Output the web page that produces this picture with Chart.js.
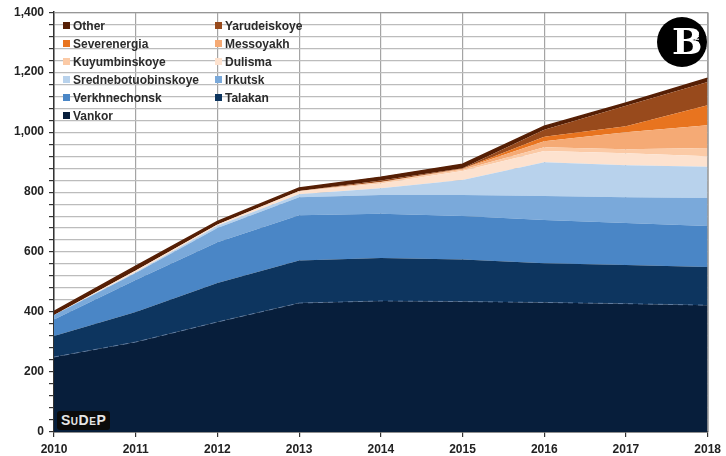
<!DOCTYPE html>
<html>
<head>
<meta charset="utf-8">
<script src="https://cdn.jsdelivr.net/npm/chart.js"></script>
<style>
  html, body { margin: 0; padding: 0; background: #fff; }
  #wrap { position: relative; width: 726px; height: 456px; }
  #legend { position: absolute; left: 63px; top: 17px; font: bold 12px "Liberation Sans", Arial, sans-serif; color: #2b2b2b; }
  .item { position: absolute; white-space: nowrap; line-height: 18px; height: 18px; }
  .item i { display: inline-block; width: 7px; height: 7px; margin-right: 3px; vertical-align: 1px; }
  #sudep { position: absolute; left: 57px; top: 411px; padding: 1px 4px 2px 4px; background: #0b0b0b; color: #e6e6e6;
           font: bold 14px "Liberation Sans", Arial, sans-serif; border-radius: 3px; letter-spacing: 0.5px; }
  #sudep small { font-size: 10px; }
  #logo { position: absolute; left: 657px; top: 17px; width: 50px; height: 50px; border-radius: 50%; background: #000; overflow: hidden; }
  #logo .b { position: absolute; left: 15px; top: 2px; color: #fff; font: bold 36px "DejaVu Serif", serif; line-height: 44px; }
  #logo .t { position: absolute; left: 30px; top: 21px; color: #fff; font: bold 6px "Liberation Sans", Arial, sans-serif; transform: rotate(90deg); }
</style>
</head>
<body>
<div id="wrap">
  <canvas id="chart" width="726" height="456"></canvas>
  <div id="legend"></div>
  <div id="sudep">S<small>U</small>D<small>E</small>P</div>
  <div id="logo"><span class="b">B</span><span class="t">CHAIR</span></div>
</div>
<script>
// years on the x axis
const years = ['2010', '2011', '2012', '2013', '2014', '2015', '2016', '2017', '2018'];

// production by field (stacked, bottom to top)
const vankor       = [250, 300, 367, 430, 437, 435, 432, 428, 423];
const talakan      = [70, 100, 130, 142, 143, 140, 131, 129, 127];
const verkhnechonsk = [55, 107, 136, 151, 148, 145, 144, 140, 137];
const irkutsk      = [15, 23, 47, 60, 62, 70, 80, 86, 93];
const sredne       = [0, 3, 8, 10, 23, 50, 113, 107, 105];
const dulisma      = [0, 6, 4, 9, 16, 30, 37, 40, 35];
const kuyumbinskoye = [0, 0, 0, 2, 5, 5, 13, 13, 27];
const messoyakh    = [0, 0, 0, 0, 0, 3, 20, 57, 76];
const severenergia = [0, 0, 0, 0, 0, 0, 15, 20, 67];
const yarudeiskoye = [0, 0, 0, 0, 5, 2, 23, 68, 77];
const other        = [12, 14, 10, 10, 11, 13, 12, 9, 13];

const yTickStep = 40;
const yLabelStep = 200;

const series = [
    { label: 'Vankor', data: vankor, color: '#071e3b' },
    { label: 'Talakan', data: talakan, color: '#0d355f' },
    { label: 'Verkhnechonsk', data: verkhnechonsk, color: '#4a86c6' },
    { label: 'Irkutsk', data: irkutsk, color: '#7aa9da' },
    { label: 'Srednebotuobinskoye', data: sredne, color: '#b8d2ec' },
    { label: 'Dulisma', data: dulisma, color: '#fde2cf' },
    { label: 'Kuyumbinskoye', data: kuyumbinskoye, color: '#fbcaa6' },
    { label: 'Messoyakh', data: messoyakh, color: '#f5aa75' },
    { label: 'Severenergia', data: severenergia, color: '#e8741f' },
    { label: 'Yarudeiskoye', data: yarudeiskoye, color: '#984a1c' },
    { label: 'Other', data: other, color: '#561f05' }
];

const datasets = series.map(function(s, i) {
    return {
        label: s.label,
        data: s.data,
        backgroundColor: s.color,
        borderColor: i === 0 ? 'rgba(110,140,180,0.7)' : s.color,
        borderWidth: i === 0 ? 1 : (i === series.length - 1 ? 1.5 : 0),
        borderDash: i === 0 ? [5, 5] : [],
        fill: i === 0 ? 'origin' : '-1',
        pointRadius: 0,
        tension: 0
    };
});

// legend: two columns, top series first
const legend = document.getElementById('legend');
series.slice().reverse().forEach(function(s, i) {
    const div = document.createElement('div');
    div.className = 'item';
    div.style.left = (i % 2 === 0 ? 0 : 152) + 'px';
    div.style.top = (Math.floor(i / 2) * 18) + 'px';
    div.innerHTML = '<i style="background:' + s.color + '"></i>' + s.label;
    legend.appendChild(div);
});

const frame = {
    id: 'frame',
    afterDraw: function(chart) {
        const a = chart.chartArea;
        const ctx = chart.ctx;
        ctx.save();
        ctx.strokeStyle = '#8f8f8f';
        ctx.lineWidth = 1;
        ctx.beginPath();
        ctx.moveTo(a.left, a.top + 0.5);
        ctx.lineTo(a.right + 0.5, a.top + 0.5);
        ctx.lineTo(a.right + 0.5, a.bottom);
        ctx.stroke();
        ctx.restore();
    }
};

new Chart(document.getElementById('chart').getContext('2d'), {
    type: 'line',
    data: { labels: years, datasets: datasets },
    options: {
        responsive: false,
        animation: false,
        layout: { padding: { top: 12, right: 16, left: 0, bottom: 0 } },
        plugins: { legend: { display: false }, tooltip: { enabled: false } },
        scales: {
            x: {
                grid: { color: '#a4a4a4', tickColor: '#333', tickLength: 5, lineWidth: 1.2 },
                border: { color: '#333', width: 1.5 },
                ticks: { color: '#222', padding: 5, maxRotation: 0, font: { family: 'Liberation Sans', weight: 'bold', size: 12 } },
                afterFit: function(scale) { scale.width; scale.height = 24; }
            },
            y: {
                stacked: true,
                min: 0,
                max: 1400,
                grid: { color: '#bcbcbc', tickColor: '#333', tickLength: 5, lineWidth: 1.2 },
                border: { color: '#333', width: 1.5 },
                ticks: {
                    stepSize: yTickStep,
                    autoSkip: false,
                    color: '#222',
                    padding: 5,
                    font: { family: 'Liberation Sans', weight: 'bold', size: 12 },
                    callback: function(v) { return v % yLabelStep === 0 ? v.toLocaleString('en-US') : ''; }
                },
                afterFit: function(scale) { scale.width = 54; }
            }
        }
    },
    plugins: [frame]
});
</script>
</body>
</html>
